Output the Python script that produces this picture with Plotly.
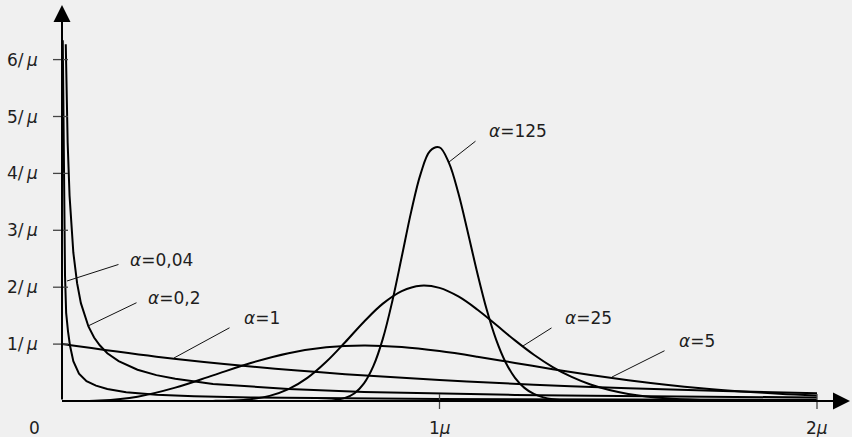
import numpy as np
import plotly.graph_objects as go

# ---------------- data ----------------
# gamma densities with mean mu (mu = 1 unit on x), shape alpha
x_a004 = [0.002, 0.004, 0.006, 0.008, 0.011, 0.016, 0.021, 0.03, 0.045, 0.065, 0.09,
          0.12, 0.17, 0.25, 0.35, 0.5, 0.75, 1.0, 1.5, 2.0]
y_a004 = [6.34, 5.4, 3.6, 2.2, 1.55, 1.22, 0.98, 0.7, 0.48, 0.35, 0.27,
          0.21, 0.155, 0.11, 0.085, 0.062, 0.045, 0.035, 0.025, 0.02]

x_a02 = [0.01, 0.015, 0.02, 0.03, 0.04, 0.05, 0.07, 0.085, 0.1, 0.12, 0.15, 0.2, 0.25,
         0.3, 0.4, 0.5, 0.6, 0.8, 1.0, 1.2, 1.4, 1.6, 1.8, 2.0]
y_a02 = [6.27, 4.54, 3.61, 2.61, 2.07, 1.72, 1.31, 1.115, 0.98, 0.84, 0.70, 0.55, 0.455,
         0.39, 0.30, 0.25, 0.21, 0.16, 0.13, 0.107, 0.091, 0.079, 0.069, 0.061]

x_a1 = [0, 0.25, 0.5, 0.75, 1.0, 1.25, 1.5, 1.75, 2.0]
y_a1 = [1.0, 0.779, 0.607, 0.472, 0.368, 0.287, 0.223, 0.174, 0.135]

x_a5 = [0, 0.1, 0.2, 0.3, 0.4, 0.5, 0.6, 0.7, 0.8, 0.9, 1.0, 1.1, 1.2, 1.3, 1.4, 1.5,
        1.6, 1.7, 1.8, 1.9, 2.0]
y_a5 = [0, 0.0079, 0.0766, 0.235, 0.451, 0.668, 0.840, 0.944, 0.977, 0.949, 0.877, 0.779,
        0.669, 0.559, 0.456, 0.365, 0.286, 0.221, 0.169, 0.127, 0.095]

x_a25 = [0, 0.2, 0.3, 0.4, 0.45, 0.5, 0.55, 0.6, 0.65, 0.7, 0.75, 0.8, 0.85, 0.9, 0.95,
         1.0, 1.05, 1.1, 1.15, 1.2, 1.25, 1.3, 1.35, 1.4, 1.45, 1.5, 1.6, 1.7, 1.8, 1.9, 2.0]
y_a25 = [0, 0, 0.00002, 0.0018, 0.0089, 0.032, 0.090, 0.208, 0.406, 0.689, 1.033, 1.394,
         1.711, 1.932, 2.027, 1.988, 1.837, 1.608, 1.339, 1.065, 0.813, 0.597, 0.423, 0.290,
         0.193, 0.125, 0.048, 0.017, 0.0055, 0.0017, 0.0005]

x_a125 = [0, 0.6, 0.7, 0.725, 0.75, 0.775, 0.8, 0.825, 0.85, 0.875, 0.9, 0.925, 0.95, 0.975,
          1.0, 1.025, 1.05, 1.075, 1.1, 1.125, 1.15, 1.175, 1.2, 1.225, 1.25, 1.275, 1.3,
          1.325, 1.35, 1.4, 1.5, 2.0]
y_a125 = [0, 0, 0.005, 0.018, 0.054, 0.137, 0.309, 0.616, 1.096, 1.754, 2.534, 3.328, 3.992,
          4.394, 4.457, 4.185, 3.650, 2.967, 2.254, 1.607, 1.078, 0.682, 0.408, 0.231, 0.124,
          0.064, 0.031, 0.014, 0.006, 0.001, 0, 0]

y_tick_vals = [1, 2, 3, 4, 5, 6]
y_tick_text = ["1/\u2009<i>μ</i>", "2/\u2009<i>μ</i>", "3/\u2009<i>μ</i>",
               "4/\u2009<i>μ</i>", "5/\u2009<i>μ</i>", "6/\u2009<i>μ</i>"]
x_tick_vals = [1, 2]
x_tick_text = ["1<i>μ</i>", "2<i>μ</i>"]

curve_labels = ["<i>α</i>=0,04", "<i>α</i>=0,2", "<i>α</i>=1", "<i>α</i>=125", "<i>α</i>=25", "<i>α</i>=5"]
label_head_x = [0.0132, 0.0689, 0.2967, 1.0252, 1.2212, 1.457]
label_head_y = [2.109, 1.318, 0.756, 4.200, 0.967, 0.422]

# ---------------- layout helpers (pixels) ----------------
W, H = 852, 437
X0_PX, PX_PER_X = 62, 377.5
Y0_PX, PX_PER_Y = 401, 56.9
leader_off = [(53, -17), (50, -24), (57, -31), (28, -22), (30, -19), (54, -27)]
text_shift = [(61, 21), (58, 28), (68, 40), (38, 31), (40, 28), (65, 36)]

FONT = "DejaVu Sans"
FS = 17
TXT = "#1e1e1e"
BG = "#f0f0f0"

fig = go.Figure()

series = [
    (x_a004, y_a004, "linear"),
    (x_a02, y_a02, "linear"),
    (x_a1, y_a1, "spline"),
    (x_a5, y_a5, "spline"),
    (x_a25, y_a25, "spline"),
    (x_a125, y_a125, "spline"),
]
for xs, ys, shp in series:
    fig.add_trace(go.Scatter(x=xs, y=ys, mode="lines",
                             line=dict(color="black", width=2, shape=shp),
                             hoverinfo="skip", showlegend=False))

annotations = []
shapes = []

# axes with arrows
x_tip = (W - 2 - X0_PX) / PX_PER_X
y_tip = (Y0_PX - 5) / PX_PER_Y
for (hx, hy) in [(x_tip, 0), (0, y_tip)]:
    annotations.append(dict(x=hx, y=hy, ax=0, ay=0, xref="x", yref="y", axref="x", ayref="y",
                            text="", showarrow=True, arrowhead=2, arrowsize=1.7,
                            arrowwidth=2, arrowcolor="black", standoff=0))

# y ticks
for v, t in zip(y_tick_vals, y_tick_text):
    shapes.append(dict(type="line", xref="x", yref="y", xsizemode="pixel", xanchor=0,
                       x0=-9, x1=6, y0=v, y1=v, line=dict(color="#444", width=1.3)))
    annotations.append(dict(x=0, y=v, xref="x", yref="y", text=t, showarrow=False,
                            xanchor="right", yanchor="middle", xshift=-22,
                            font=dict(family=FONT, size=FS, color=TXT)))
# x ticks
for v, t in zip(x_tick_vals, x_tick_text):
    shapes.append(dict(type="line", xref="x", yref="y", ysizemode="pixel", yanchor=0,
                       y0=-8, y1=7, x0=v, x1=v, line=dict(color="#444", width=1.3)))
    annotations.append(dict(x=v, y=0, xref="x", yref="y", text=t, showarrow=False,
                            xanchor="center", yanchor="middle", yshift=-27,
                            font=dict(family=FONT, size=FS, color=TXT)))
annotations.append(dict(x=0, y=0, xref="x", yref="y", text="0", showarrow=False,
                        xanchor="center", yanchor="middle", xshift=-28, yshift=-27,
                        font=dict(family=FONT, size=FS, color=TXT)))

# curve labels with leader lines
for lab, hx, hy, (ax, ay), (sx, sy) in zip(curve_labels, label_head_x, label_head_y,
                                         leader_off, text_shift):
    annotations.append(dict(x=hx, y=hy, xref="x", yref="y", ax=ax, ay=ay, text="",
                            showarrow=True, arrowhead=0, arrowwidth=1, arrowcolor="#111",
                            standoff=0))
    annotations.append(dict(x=hx, y=hy, xref="x", yref="y", text=lab, showarrow=False,
                            xanchor="left", yanchor="middle", xshift=sx, yshift=sy,
                            font=dict(family=FONT, size=FS, color=TXT)))

fig.update_layout(
    width=W, height=H, autosize=False,
    margin=dict(l=0, r=0, t=0, b=0, pad=0),
    paper_bgcolor=BG, plot_bgcolor=BG,
    xaxis=dict(range=[-X0_PX / PX_PER_X, (W - X0_PX) / PX_PER_X], visible=False, fixedrange=True),
    yaxis=dict(range=[(Y0_PX - H) / PX_PER_Y, Y0_PX / PX_PER_Y], visible=False, fixedrange=True),
    annotations=annotations, shapes=shapes, showlegend=False,
)

fig.write_html(
    "out.html",
    config={"displayModeBar": False},
    post_script="document.body.style.margin='0';document.body.style.padding='0';"
                "document.body.style.overflow='hidden';document.body.style.background='#f0f0f0';",
)
